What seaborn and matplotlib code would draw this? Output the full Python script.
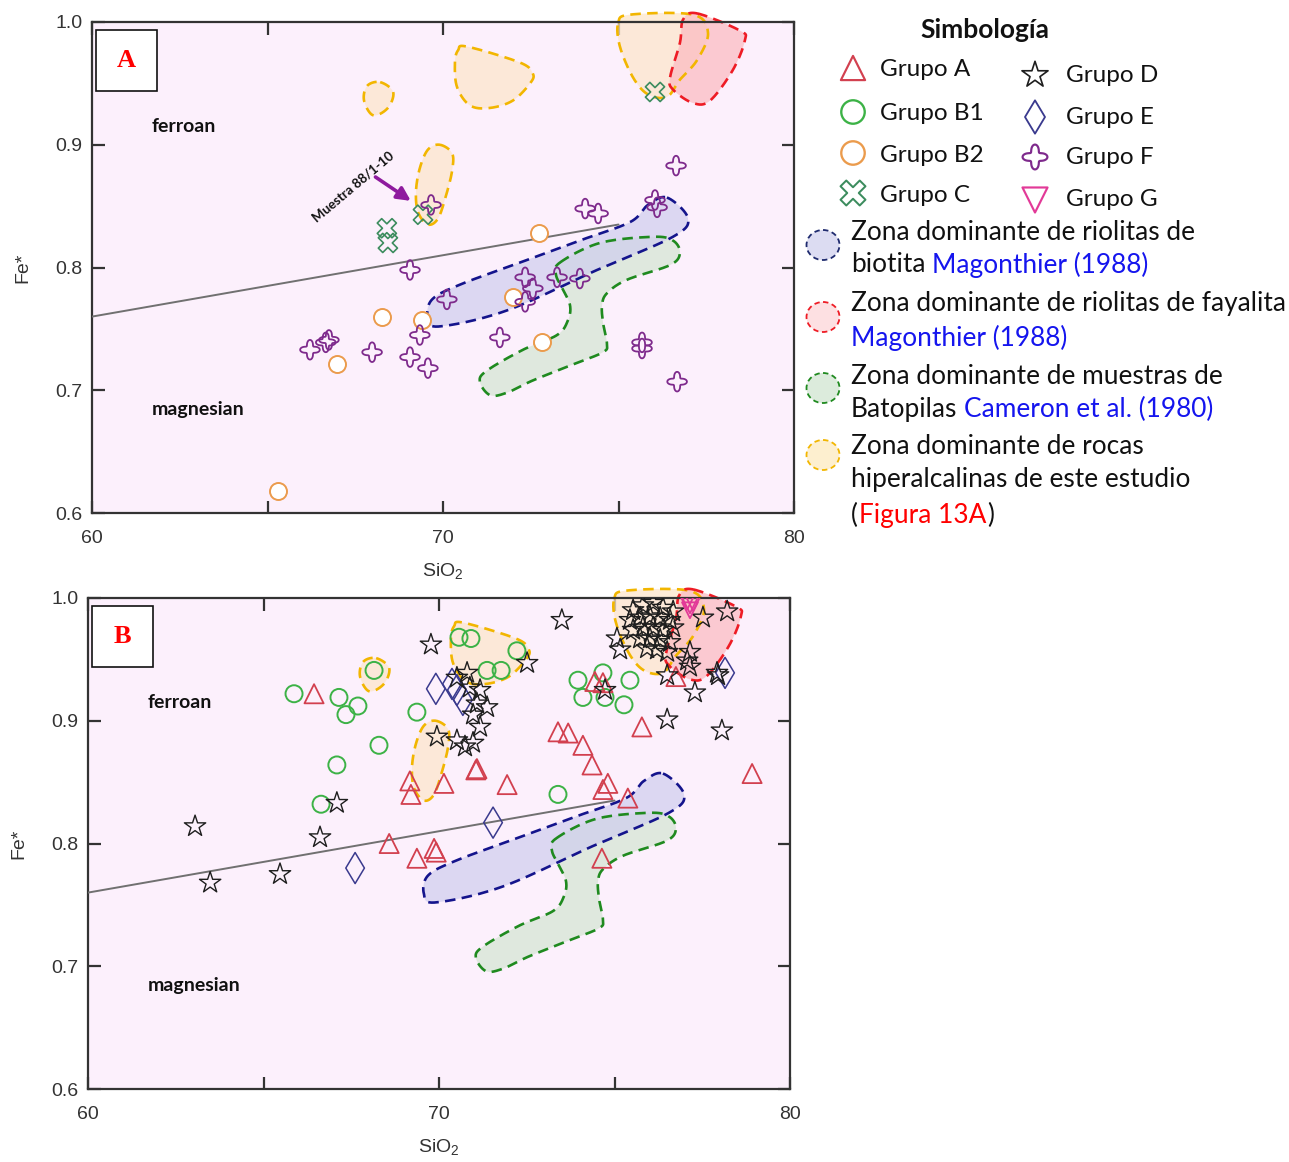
import numpy as np
import matplotlib
matplotlib.use("Agg")
import matplotlib.pyplot as plt
import seaborn as sns
from matplotlib.path import Path
from matplotlib.patches import Ellipse, Rectangle

# ---------------------------------------------------------------- data
# Panel A: muestras de este estudio
a_b2_sio2 = [72.74, 68.26, 69.40, 66.98, 71.99, 72.82, 65.30]
a_b2_fe = [0.828, 0.760, 0.757, 0.721, 0.776, 0.739, 0.618]

a_c_sio2 = [68.40, 68.43, 69.43, 76.04]
a_c_fe = [0.832, 0.820, 0.843, 0.943]

a_f_sio2 = [69.66, 76.64, 76.04, 76.10, 74.05, 74.42, 69.06, 66.21, 66.66, 66.75,
            67.98, 69.06, 69.34, 69.57, 70.11, 72.34, 72.56, 72.34, 73.25, 73.90,
            71.62, 75.67, 75.67, 76.67]
a_f_fe = [0.851, 0.883, 0.855, 0.849, 0.848, 0.844, 0.798, 0.733, 0.739, 0.741,
          0.731, 0.727, 0.745, 0.718, 0.774, 0.792, 0.783, 0.772, 0.792, 0.791,
          0.743, 0.739, 0.734, 0.707]

# Panel B
b_a_sio2 = [66.44, 69.17, 69.20, 70.14, 71.08, 71.05, 71.94, 68.58, 69.37, 69.86,
            69.92, 74.44, 74.67, 73.39, 73.68, 74.10, 74.36, 74.81, 74.67, 75.38,
            75.78, 78.92, 76.75, 74.64]
b_a_fe = [0.922, 0.851, 0.840, 0.849, 0.861, 0.860, 0.848, 0.800, 0.788, 0.796,
          0.793, 0.932, 0.931, 0.891, 0.890, 0.880, 0.864, 0.849, 0.844, 0.837,
          0.895, 0.857, 0.936, 0.788]

b_b1_sio2 = [65.87, 67.15, 67.69, 67.35, 68.15, 69.37, 68.29, 67.09, 66.64, 70.57,
             70.91, 71.37, 71.77, 72.22, 73.96, 74.67, 74.10, 74.73, 75.44, 75.27,
             73.39]
b_b1_fe = [0.922, 0.919, 0.912, 0.905, 0.941, 0.907, 0.880, 0.864, 0.832, 0.968,
           0.967, 0.941, 0.941, 0.957, 0.933, 0.939, 0.919, 0.919, 0.933, 0.913,
           0.840]

b_d_sio2 = [75.53, 75.81, 76.10, 76.38, 76.67, 75.44, 75.73, 76.01, 76.30, 76.58,
            75.53, 75.81, 76.10, 76.38, 76.67, 75.73, 76.01, 76.30, 76.58, 75.93,
            76.21, 76.50, 75.07, 75.16, 77.15, 77.07, 77.15, 77.52, 78.21, 76.50,
            77.92,
            63.05, 63.48, 65.47, 66.61, 67.09, 69.77, 69.94, 70.51, 70.74, 70.97,
            70.51, 70.80, 70.88, 71.17, 71.08, 71.37, 70.97, 71.17, 72.51, 73.50,
            74.73, 76.50, 77.29, 78.06, 77.95]
b_d_fe = [0.990, 0.994, 0.996, 0.992, 0.989, 0.982, 0.984, 0.985, 0.984, 0.982,
          0.974, 0.976, 0.976, 0.974, 0.976, 0.967, 0.967, 0.966, 0.964, 0.959,
          0.958, 0.956, 0.967, 0.958, 0.956, 0.949, 0.944, 0.984, 0.989, 0.937,
          0.939,
          0.814, 0.768, 0.775, 0.805, 0.833, 0.962, 0.887, 0.884, 0.879, 0.882,
          0.935, 0.939, 0.927, 0.925, 0.914, 0.911, 0.905, 0.895, 0.947, 0.982,
          0.925, 0.901, 0.923, 0.892, 0.937]

b_e_sio2 = [69.91, 70.37, 70.51, 70.68, 71.54, 67.61, 78.15]
b_e_fe = [0.926, 0.930, 0.925, 0.917, 0.817, 0.780, 0.939]

b_g_sio2 = [77.07, 77.15, 77.24, 77.15]
b_g_fe = [0.997, 0.994, 0.996, 0.990]

# Limite ferroan / magnesian
limite_sio2 = [60.0, 75.0]
limite_fe = [0.760, 0.835]

# Zonas (contornos en SiO2, Fe*)
zona_biotita_sio2 = [76.38, 76.98, 76.55, 74.39, 71.82, 69.91, 69.57, 69.69, 70.48,
                     72.19, 73.90, 75.33, 75.84]
zona_biotita_fe = [0.857, 0.840, 0.825, 0.798, 0.765, 0.752, 0.759, 0.774, 0.786,
                   0.804, 0.822, 0.837, 0.851]

zona_fayalita_sio2 = [77.24, 78.46, 78.60, 78.26, 77.61, 77.12, 76.55, 76.47, 76.75, 76.84]
zona_fayalita_fe = [1.007, 0.993, 0.985, 0.961, 0.936, 0.934, 0.945, 0.955, 0.983, 1.002]

zona_batopilas_sio2 = [73.33, 74.47, 75.98, 76.55, 76.75, 76.47, 75.24, 74.67, 74.53,
                       74.56, 74.67, 74.56, 73.70, 72.56, 71.82, 71.34, 71.05, 71.25,
                       72.28, 73.25, 73.56, 73.62, 73.42, 73.22]
zona_batopilas_fe = [0.804, 0.820, 0.825, 0.822, 0.812, 0.802, 0.790, 0.779, 0.769,
                     0.755, 0.738, 0.731, 0.721, 0.708, 0.698, 0.696, 0.707, 0.716,
                     0.733, 0.745, 0.757, 0.769, 0.782, 0.794]

hiper1_sio2 = [74.99, 75.33, 77.12, 77.55, 77.24, 76.75, 76.38, 75.84, 75.41, 75.04]
hiper1_fe = [0.999, 1.006, 1.006, 0.991, 0.969, 0.953, 0.939, 0.941, 0.955, 0.980]

hiper2_sio2 = [70.43, 70.68, 72.19, 72.56, 72.48, 71.99, 71.34, 70.77, 70.40, 70.34]
hiper2_fe = [0.977, 0.980, 0.967, 0.958, 0.950, 0.936, 0.930, 0.932, 0.947, 0.967]

hiper3_sio2 = [68.21, 68.58, 68.43, 68.01, 67.75, 67.84]
hiper3_fe = [0.951, 0.943, 0.930, 0.924, 0.936, 0.948]

hiper4_sio2 = [69.91, 70.26, 70.26, 70.09, 69.86, 69.57, 69.29, 69.23, 69.34, 69.57]
hiper4_fe = [0.900, 0.893, 0.879, 0.859, 0.840, 0.835, 0.845, 0.862, 0.881, 0.896]

# ---------------------------------------------------------------- style
sns.set_theme(style="ticks")
plt.rcParams["font.family"] = ["Liberation Sans", "DejaVu Sans"]
plt.rcParams["mathtext.fontset"] = "custom"
plt.rcParams["mathtext.rm"] = "Liberation Sans"
plt.rcParams["mathtext.it"] = "Liberation Sans:italic"

W, H = 1289, 1162
fig = plt.figure(figsize=(W / 100, H / 100), dpi=100)
fig.patch.set_facecolor("white")

# custom markers
th = np.linspace(0, 2 * np.pi, 97)
rr = 0.74 + 0.26 * np.cos(4 * th)
flower = Path(np.column_stack([rr * np.sin(th), rr * np.cos(th)]), closed=True)

w = 0.30
cross = np.array([(w, w), (w, 1), (-w, 1), (-w, w), (-1, w), (-1, -w), (-w, -w),
                  (-w, -1), (w, -1), (w, -w), (1, -w), (1, w), (w, w)])
ang = np.deg2rad(45)
rot = np.array([[np.cos(ang), -np.sin(ang)], [np.sin(ang), np.cos(ang)]])
xcross = Path(cross @ rot.T, closed=True)

C_A = "#d2404f"
C_B1 = "#3cb246"
C_B2 = "#eb9b4c"
C_C = "#3c8c5e"
C_D = "#1e1e1e"
C_E = "#3a3a8e"
C_F = "#7e2a8c"
C_G = "#e23a98"

estilos = {
    "A": ("^", 190, C_A, "none", 1.3),
    "B1": ("o", 150, C_B1, "none", 1.4),
    "B2": ("o", 150, C_B2, "white", 1.4),
    "C": (xcross, 190, C_C, "none", 1.2),
    "D": ("*", 260, C_D, "none", 1.0),
    "E": ("d", 250, C_E, "none", 1.1),
    "F": (flower, 200, C_F, "none", 1.3),
    "G": ("v", 130, C_G, "none", 1.3),
}


def puntos(ax, sio2, fe, grupo, z=5):
    m, s, ec, fc, lw = estilos[grupo]
    sns.scatterplot(x=sio2, y=fe, ax=ax, marker=m, s=s, facecolor=fc,
                    edgecolor=ec, linewidth=lw, zorder=z, legend=False)


def suave(xs, ys, n=24):
    P = np.column_stack([xs, ys])
    N = len(P)
    t = np.linspace(0, 1, n, endpoint=False)[:, None]
    out = []
    for i in range(N):
        p0, p1, p2, p3 = P[i - 1], P[i], P[(i + 1) % N], P[(i + 2) % N]
        out.append(0.5 * (2 * p1 + (-p0 + p2) * t + (2 * p0 - 5 * p1 + 4 * p2 - p3) * t ** 2
                          + (-p0 + 3 * p1 - 3 * p2 + p3) * t ** 3))
    out = np.vstack(out)
    return np.vstack([out, out[:1]])


zonas = [
    (zona_batopilas_sio2, zona_batopilas_fe, "#1f8a1f", "#d6e6d4", 0.75),
    (zona_biotita_sio2, zona_biotita_fe, "#14148c", "#cfcdee", 0.7),
    (hiper1_sio2, hiper1_fe, "#f2b600", "#fde6cc", 0.75),
    (zona_fayalita_sio2, zona_fayalita_fe, "#ee1c25", "#fbb9c0", 0.7),
    (hiper2_sio2, hiper2_fe, "#f2b600", "#fde6cc", 0.75),
    (hiper3_sio2, hiper3_fe, "#f2b600", "#fde6cc", 0.75),
    (hiper4_sio2, hiper4_fe, "#f2b600", "#fde6cc", 0.75),
]

AX_W = 702 / W
AX_H = 491 / H
ejes = {
    "A": fig.add_axes([92 / W, 1 - 513 / H, AX_W, AX_H]),
    "B": fig.add_axes([88 / W, 1 - 1089 / H, AX_W, AX_H]),
}

for letra, ax in ejes.items():
    ax.set_facecolor("#fcf0fc")
    ax.set_xlim(60, 80)
    ax.set_ylim(0.6, 1.0)
    ax.set_xticks([60, 65, 70, 75, 80])
    ax.set_xticklabels(["60", "", "70", "", "80"])
    ax.set_yticks([0.6, 0.7, 0.8, 0.9, 1.0])
    ax.set_yticklabels(["0.6", "0.7", "0.8", "0.9", "1.0"])
    ax.tick_params(direction="in", length=9, width=1.6, top=True, right=True,
                   labelsize=14, colors="#333333", pad=12)
    ax.tick_params(axis="y", pad=7)
    for sp in ax.spines.values():
        sp.set_color("#333333")
        sp.set_linewidth(1.6)
        sp.set_visible(True)
    ax.text(0.5, -0.118, "SiO$_2$", transform=ax.transAxes, ha="center",
            va="center", fontsize=14, color="#333333")
    ax.text(-0.099, 0.5, "Fe*", transform=ax.transAxes, ha="center",
            va="center", fontsize=14, color="#333333", rotation=90)

    # zonas
    for xs, ys, ec, fc, al in zonas:
        c = suave(xs, ys)
        ax.fill(c[:, 0], c[:, 1], facecolor=fc, alpha=al, edgecolor="none",
                zorder=1, clip_on=False)
    for xs, ys, ec, fc, al in zonas:
        c = suave(xs, ys)
        ax.plot(c[:, 0], c[:, 1], color=ec, lw=1.9, ls=(0, (4.0, 2.4)),
                zorder=2, clip_on=False)

    sns.lineplot(x=limite_sio2, y=limite_fe, ax=ax, color="#707070", lw=1.4,
                 zorder=3)

    ax.text(61.71, 0.9145, "ferroan", fontsize=14, fontweight="bold",
            family=["Lato", "DejaVu Sans"], va="center", ha="left", color="#111111")
    ax.text(61.71, 0.6847, "magnesian", fontsize=14, fontweight="bold",
            family=["Lato", "DejaVu Sans"], va="center", ha="left", color="#111111")

    ax.add_patch(Rectangle((0.006, 0.86), 0.086, 0.123, transform=ax.transAxes,
                           facecolor="white", edgecolor="#111111", lw=1.2, zorder=6))
    ax.text(0.049, 0.921, letra, transform=ax.transAxes, ha="center", va="center",
            fontsize=19, fontweight="bold", color="#ff0000",
            family=["Liberation Serif", "DejaVu Serif"], zorder=7)

axA, axB = ejes["A"], ejes["B"]

puntos(axA, a_b2_sio2, a_b2_fe, "B2")
puntos(axA, a_c_sio2, a_c_fe, "C")
puntos(axA, a_f_sio2, a_f_fe, "F")

axA.annotate("", xy=(69.15, 0.853), xytext=(68.01, 0.875),
             arrowprops=dict(arrowstyle="-|>", color="#8e1a9e", lw=2.6,
                             mutation_scale=20), zorder=8)
axA.text(67.44, 0.866, "Muestra 88/1-10", rotation=40, rotation_mode="anchor",
         ha="center", va="center", fontsize=9.5, fontweight="bold",
         family=["Lato", "DejaVu Sans"], color="#111111", zorder=8)

puntos(axB, b_b1_sio2, b_b1_fe, "B1")
puntos(axB, b_a_sio2, b_a_fe, "A")
puntos(axB, b_e_sio2, b_e_fe, "E")
puntos(axB, b_d_sio2, b_d_fe, "D")
puntos(axB, b_g_sio2, b_g_fe, "G")

# ---------------------------------------------------------------- simbología
lg = fig.add_axes([0, 0, 1, 1])
lg.set_xlim(0, W)
lg.set_ylim(H, 0)
lg.axis("off")

LFONT = ["Lato", "DejaVu Sans"]
lg.text(985, 30, "Simbología", fontsize=19, fontweight="bold", family=LFONT,
        ha="center", va="center", color="#111111")

items_izq = [("A", "Grupo A", 68, 70), ("B1", "Grupo B1", 112, 113),
             ("B2", "Grupo B2", 153, 155), ("C", "Grupo C", 193, 195)]
items_der = [("D", "Grupo D", 75, 76), ("E", "Grupo E", 117, 117),
             ("F", "Grupo F", 157, 157), ("G", "Grupo G", 200, 199)]
escala = {"A": 1.6, "B1": 1.9, "B2": 1.9, "C": 1.7, "D": 1.5, "E": 1.15, "F": 1.6, "G": 2.5}
for items, xm, xt in [(items_izq, 853, 880), (items_der, 1035, 1066)]:
    for g, lab, ym, yt in items:
        m, s, ec, fc, lw = estilos[g]
        fc = "none" if fc == "white" else fc
        lg.scatter([xm], [ym], marker=m, s=s * escala[g], facecolor=fc,
                   edgecolor=ec, linewidth=lw * 1.2)
        lg.text(xt, yt, lab, fontsize=17.5, family=LFONT, ha="left", va="center",
                color="#111111")

renderer = fig.canvas.get_renderer()


def ancho(t):
    bb = t.get_window_extent(renderer=renderer)
    return bb.width


def linea(x, y, partes, size):
    for s, c, sp in partes:
        t = lg.text(x, y, s, fontsize=size, family=LFONT, ha="left", va="center",
                    color=c)
        x += ancho(t) + sp


# tamaño de letra ajustado al ancho de la línea más larga
prueba = lg.text(0, -100, "Zona dominante de riolitas de fayalita", fontsize=17,
                 family=LFONT)
LS = 17 * 432 / ancho(prueba)
prueba.remove()
esp = LS * 100 / 72 * 0.26

NEG, AZ, ROJO = "#111111", "#1515ee", "#ff0000"
linea(851, 233, [("Zona dominante de riolitas de", NEG, 0)], LS)
linea(851, 265, [("biotita", NEG, esp), ("Magonthier (1988)", AZ, 0)], LS)
linea(851, 304, [("Zona dominante de riolitas de fayalita", NEG, 0)], LS)
linea(851, 338, [("Magonthier (1988)", AZ, 0)], LS)
linea(851, 376, [("Zona dominante de muestras de", NEG, 0)], LS)
linea(851, 409, [("Batopilas", NEG, esp), ("Cameron et al. (1980)", AZ, 0)], LS)
linea(851, 447, [("Zona dominante de rocas", NEG, 0)], LS)
linea(851, 480, [("hiperalcalinas de este estudio", NEG, 0)], LS)
linea(851, 515, [("(", NEG, 1), ("Figura 13A", ROJO, 1), (")", NEG, 0)], LS)

for yc, ec, fc in [(245, "#1e2a6e", "#dcdcf2"), (317, "#ee1c25", "#fde0e2"),
                   (388, "#1f8a1f", "#dcebdc"), (455, "#f2b600", "#fdefcf")]:
    lg.add_patch(Ellipse((823, yc), 33, 30, facecolor=fc, edgecolor=ec, lw=1.3,
                         ls=(0, (3, 2))))

fig.savefig("out.png", dpi=100)
